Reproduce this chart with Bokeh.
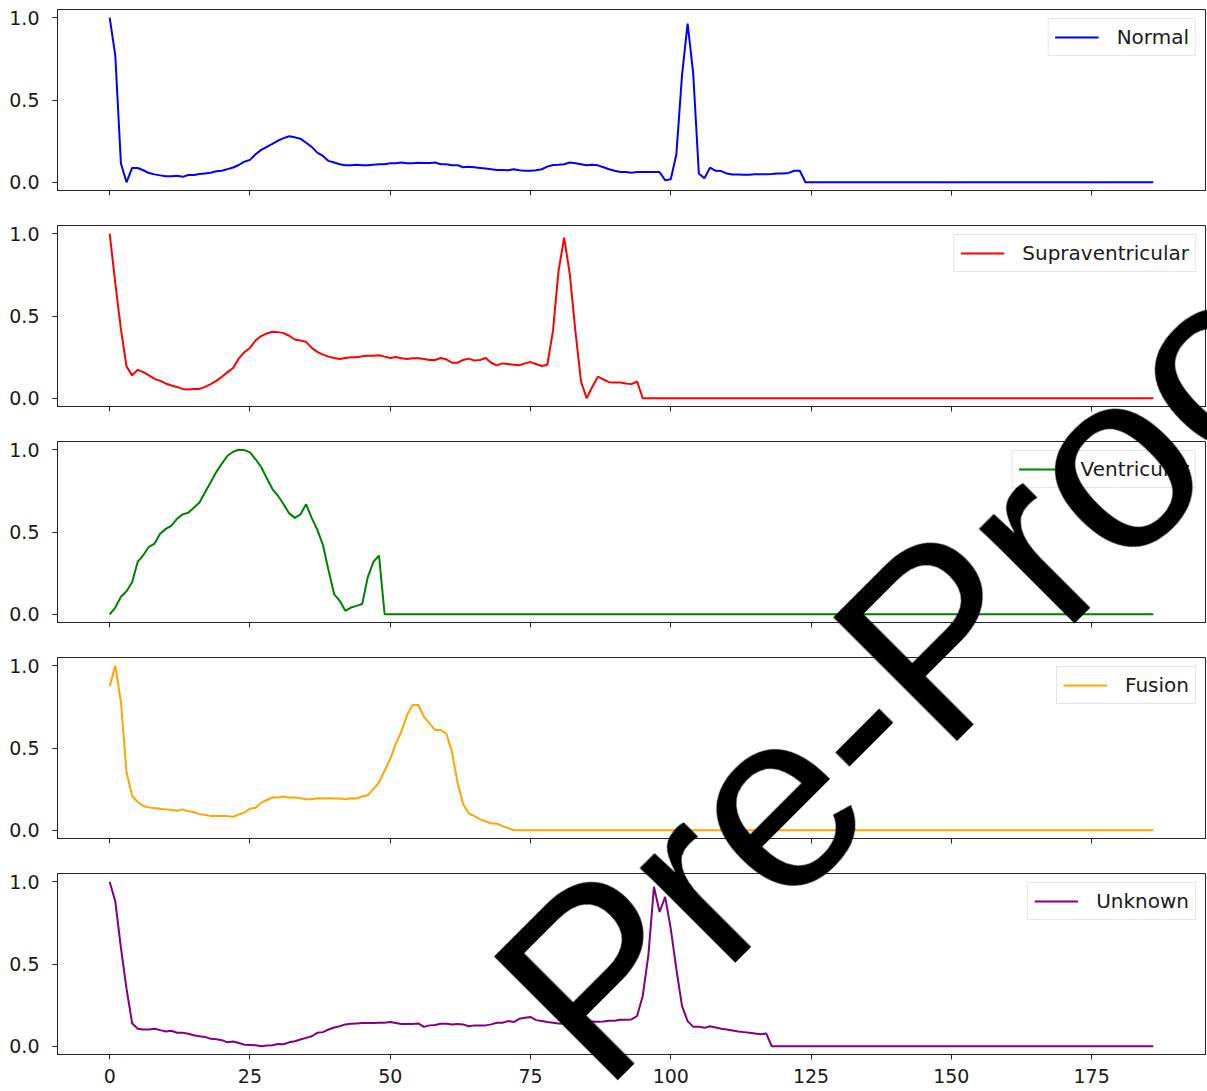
from bokeh.plotting import figure
from bokeh.layouts import column
from bokeh.models import Range1d, FixedTicker, NumeralTickFormatter, Div
from bokeh.embed import file_html
from bokeh.resources import INLINE

N = 187
labels = ["Normal", "Supraventricular", "Ventricular", "Fusion", "Unknown"]
colors = ["blue", "red", "green", "orange", "purple"]
x_ticks = [0, 25, 50, 75, 100, 125, 150, 175]
y_ticks = [0.0, 0.5, 1.0]
watermark = "Pre-Proof"

normal_head = [
    1.0, 0.77, 0.115, 0.0, 0.087, 0.087, 0.073, 0.056, 0.048, 0.042,
    0.036, 0.036, 0.04, 0.033, 0.044, 0.044, 0.05, 0.054, 0.058, 0.067,
    0.07, 0.08, 0.09, 0.105, 0.125, 0.136, 0.17, 0.197, 0.215, 0.233,
    0.253, 0.268, 0.28, 0.273, 0.265, 0.24, 0.215, 0.18, 0.16, 0.13,
    0.12, 0.11, 0.103, 0.103, 0.107, 0.103, 0.103, 0.107, 0.11, 0.11,
    0.115, 0.115, 0.12, 0.115, 0.115, 0.119, 0.117, 0.117, 0.12, 0.11,
    0.11, 0.104, 0.104, 0.091, 0.095, 0.091, 0.087, 0.083, 0.079, 0.075,
    0.075, 0.073, 0.079, 0.073, 0.07, 0.07, 0.073, 0.079, 0.095, 0.105,
    0.107, 0.11, 0.12, 0.115, 0.11, 0.103, 0.107, 0.103, 0.091, 0.079,
    0.07, 0.062, 0.062, 0.058, 0.062, 0.062, 0.062, 0.062, 0.062, 0.012,
    0.018, 0.17, 0.65, 0.965, 0.66, 0.053, 0.024, 0.089, 0.07, 0.068,
    0.053, 0.047, 0.047, 0.045, 0.045, 0.049, 0.049, 0.049, 0.05, 0.053,
    0.053, 0.057, 0.07, 0.07, 0.0,
]
supra_head = [
    1.0, 0.7, 0.42, 0.194, 0.139, 0.173, 0.159, 0.139, 0.118, 0.106,
    0.09, 0.078, 0.069, 0.057, 0.053, 0.057, 0.057, 0.069, 0.086, 0.106,
    0.131, 0.159, 0.184, 0.241, 0.28, 0.306, 0.351, 0.378, 0.394, 0.404,
    0.402, 0.396, 0.38, 0.357, 0.351, 0.343, 0.306, 0.282, 0.265, 0.253,
    0.245, 0.239, 0.245, 0.249, 0.249, 0.255, 0.259, 0.259, 0.261, 0.253,
    0.245, 0.251, 0.243, 0.239, 0.243, 0.243, 0.239, 0.233, 0.233, 0.245,
    0.237, 0.216, 0.216, 0.233, 0.241, 0.229, 0.233, 0.245, 0.216, 0.2,
    0.212, 0.208, 0.204, 0.2, 0.212, 0.22, 0.208, 0.196, 0.204, 0.408,
    0.776, 0.976, 0.755, 0.408, 0.102, 0.0, 0.069, 0.131, 0.114, 0.098,
    0.096, 0.096, 0.09, 0.086, 0.102, 0.0,
]
ventr_head = [
    0.0, 0.041, 0.107, 0.14, 0.195, 0.319, 0.36, 0.41, 0.43, 0.49,
    0.519, 0.539, 0.58, 0.607, 0.617, 0.648, 0.679, 0.741, 0.802, 0.864,
    0.916, 0.963, 0.988, 1.0, 0.998, 0.984, 0.942, 0.895, 0.827, 0.761,
    0.72, 0.669, 0.613, 0.586, 0.607, 0.669, 0.586, 0.514, 0.422, 0.267,
    0.123, 0.082, 0.021, 0.041, 0.051, 0.062, 0.226, 0.319, 0.356, 0.0,
]
fusion_head = [
    0.875, 1.0, 0.78, 0.352, 0.209, 0.172, 0.148, 0.139, 0.135, 0.131,
    0.127, 0.123, 0.119, 0.127, 0.115, 0.111, 0.098, 0.094, 0.086, 0.086,
    0.086, 0.086, 0.082, 0.096, 0.107, 0.131, 0.137, 0.168, 0.184, 0.199,
    0.199, 0.205, 0.199, 0.199, 0.195, 0.189, 0.189, 0.195, 0.193, 0.195,
    0.193, 0.193, 0.189, 0.195, 0.193, 0.205, 0.213, 0.25, 0.291, 0.363,
    0.434, 0.527, 0.602, 0.7, 0.762, 0.762, 0.69, 0.65, 0.609, 0.609,
    0.588, 0.475, 0.291, 0.158, 0.102, 0.086, 0.066, 0.055, 0.041, 0.041,
    0.025, 0.014, 0.0,
]
unknown_head = [
    1.0, 0.88, 0.6, 0.35, 0.14, 0.106, 0.102, 0.102, 0.106, 0.098,
    0.09, 0.094, 0.082, 0.082, 0.076, 0.067, 0.061, 0.057, 0.045, 0.043,
    0.037, 0.024, 0.029, 0.02, 0.01, 0.008, 0.006, 0.0, 0.004, 0.006,
    0.014, 0.012, 0.024, 0.031, 0.041, 0.051, 0.061, 0.082, 0.086, 0.102,
    0.114, 0.122, 0.133, 0.137, 0.139, 0.141, 0.141, 0.141, 0.143, 0.143,
    0.147, 0.141, 0.135, 0.135, 0.135, 0.139, 0.118, 0.127, 0.129, 0.137,
    0.137, 0.133, 0.135, 0.133, 0.122, 0.127, 0.127, 0.127, 0.133, 0.143,
    0.143, 0.153, 0.147, 0.167, 0.173, 0.178, 0.159, 0.153, 0.147, 0.143,
    0.139, 0.137, 0.137, 0.139, 0.143, 0.147, 0.151, 0.149, 0.151, 0.155,
    0.155, 0.161, 0.161, 0.163, 0.184, 0.306, 0.551, 0.969, 0.816, 0.908,
    0.714, 0.469, 0.245, 0.153, 0.118, 0.118, 0.112, 0.122, 0.114, 0.106,
    0.102, 0.096, 0.09, 0.086, 0.082, 0.078, 0.073, 0.078, 0.0,
]

def pad(head):
    return head + [0.0] * (N - len(head))

series = [pad(normal_head), pad(supra_head), pad(ventr_head),
          pad(fusion_head), pad(unknown_head)]
xs = list(range(N))

# layout constants (pixels)
W = 1206
BL, BR, BT = 57, 1, 9
FRAME_H = 181
STEP = 216
X0, X1 = -9.3, 195.3
Y0, Y1 = -0.05, 1.05

FONT = "DejaVu Sans"
TXT = "#1a1a1a"

figs = []
for i in range(5):
    last = i == 4
    bb = 35 if last else STEP - BT - FRAME_H
    h = BT + FRAME_H + bb
    p = figure(width=W, height=h,
               x_range=Range1d(X0, X1), y_range=Range1d(Y0, Y1),
               output_backend="svg", toolbar_location=None,
               min_border_left=BL, min_border_right=BR,
               min_border_top=BT, min_border_bottom=bb)
    p.line(xs, series[i], line_color=colors[i], line_width=2,
           legend_label=labels[i])
    p.xgrid.visible = False
    p.ygrid.visible = False
    p.outline_line_color = "#222222"
    p.outline_line_width = 1
    p.background_fill_color = "white"
    p.border_fill_color = "white"

    p.xaxis.ticker = FixedTicker(ticks=x_ticks)
    p.yaxis.ticker = FixedTicker(ticks=y_ticks)
    p.yaxis.formatter = NumeralTickFormatter(format="0.0")
    for ax in (p.xaxis, p.yaxis):
        ax.axis_line_color = "#222222"
        ax.major_tick_line_color = "#222222"
        ax.major_tick_in = 0
        ax.major_tick_out = 5
        ax.minor_tick_line_color = None
        ax.major_label_text_font = FONT
        ax.major_label_text_font_size = "19px"
        ax.major_label_text_color = TXT
    p.yaxis.major_label_standoff = 13
    if last:
        p.xaxis.major_label_standoff = 9
    else:
        p.xaxis.major_label_text_color = None
        p.xaxis.major_label_standoff = 0

    lg = p.legend[0]
    lg.location = "top_right"
    lg.margin = 9
    lg.padding = 6
    lg.spacing = 0
    lg.glyph_width = 44
    lg.glyph_height = 20
    lg.label_height = 20
    lg.label_standoff = 18
    lg.label_text_font = FONT
    lg.label_text_font_size = "20px"
    lg.label_text_color = TXT
    lg.border_line_color = "#cccccc"
    lg.border_line_width = 1
    lg.background_fill_color = "white"
    lg.background_fill_alpha = 0.8
    figs.append(p)

# diagonal watermark laid over the whole page (baseline origin in page px)
WM_X, WM_Y, WM_SIZE = 603.0, 1095.0, 254
BASE = round(0.8465 * WM_SIZE, 1)
wm_html = (
    f'<div style="position:fixed;left:{WM_X}px;top:{WM_Y - BASE}px;'
    f'margin:0;padding:0;font-family:\'Liberation Sans\',Arial,sans-serif;'
    f'font-size:{WM_SIZE}px;line-height:{WM_SIZE}px;white-space:nowrap;'
    f'color:#000;transform-origin:0px {BASE}px;transform:rotate(-45deg);'
    f'pointer-events:none;z-index:50;">{watermark}</div>'
)
wm = Div(text=wm_html, width=1, height=1, margin=0)

layout = column(*figs, wm, spacing=0)
open("out.html", "w").write(file_html(layout, INLINE))
